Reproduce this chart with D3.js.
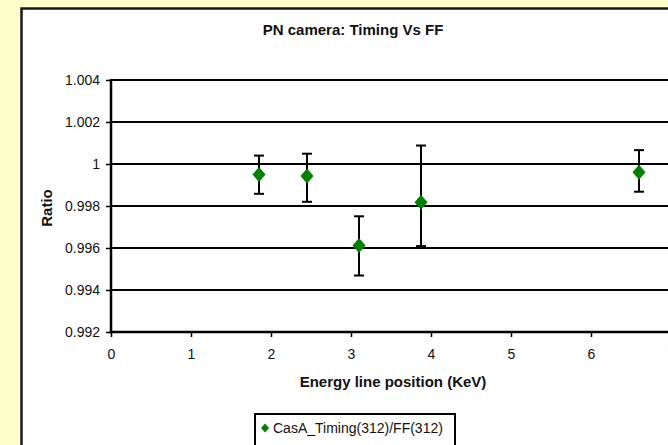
<!DOCTYPE html>
<html>
<head>
<meta charset="utf-8">
<script src="https://cdn.jsdelivr.net/npm/d3@7"></script>
<style>
  html, body { margin: 0; padding: 0; background: #FFFFCC; }
  svg { display: block; font-family: "Liberation Sans", Arial, sans-serif; }
</style>
</head>
<body>
<svg id="chart" width="668" height="445"></svg>
<script>
// Energy line positions (keV) and the Timing / Full-Frame gain ratio at each line
const energy = [1.85, 2.45, 3.10, 3.875, 6.60];
const ratio = [0.9995, 0.99943, 0.99612, 0.99818, 0.99961];
// Upper and lower ends of the error bars
const ratioHigh = [1.0004, 1.00049, 0.99751, 1.00088, 1.00066];
const ratioLow = [0.99858, 0.9982, 0.99469, 0.99609, 0.99868];

const xTicks = [0, 1, 2, 3, 4, 5, 6, 7];
const yTicks = [0.992, 0.994, 0.996, 0.998, 1, 1.002, 1.004];

const titleText = "PN camera: Timing Vs FF";
const xTitle = "Energy line position (KeV)";
const yTitle = "Ratio";
const seriesName = "CasA_Timing(312)/FF(312)";

const FONT = "Liberation Sans, Arial, sans-serif";
const svg = d3.select("#chart");

// page background and chart area
svg.append("rect").attr("x", 0).attr("y", 0).attr("width", 668).attr("height", 445)
  .attr("fill", "#FFFFCC");
svg.append("rect").attr("x", 21.5).attr("y", 8.5).attr("width", 700).attr("height", 480)
  .attr("fill", "#FFFFFF").attr("stroke", "#1a1a1a").attr("stroke-width", 2.5);

const x = d3.scaleLinear().domain([0, 7]).range([111, 671]);
const y = d3.scaleLinear().domain([0.992, 1.004]).range([332, 80]);

// horizontal gridlines
svg.append("g").selectAll("line").data(yTicks).join("line")
  .attr("x1", x(0)).attr("x2", x(7))
  .attr("y1", d => y(d)).attr("y2", d => y(d))
  .attr("stroke", "#000").attr("stroke-width", 1.8);

// y axis
const yAxis = d3.axisLeft(y).tickValues(yTicks).tickSize(5).tickPadding(6)
  .tickFormat(d => d3.format("~g")(+d.toFixed(3)));
const gy = svg.append("g").attr("transform", `translate(${x(0)},0)`).call(yAxis);
gy.select(".domain").remove();
gy.selectAll(".tick line").attr("stroke", "#000").attr("stroke-width", 1.5);
gy.selectAll(".tick text").attr("font-size", 14).attr("fill", "#111")
  .attr("font-family", FONT);
gy.append("line").attr("x1", 0).attr("x2", 0).attr("y1", y(1.004) - 1).attr("y2", y(0.992) + 1.2)
  .attr("stroke", "#000").attr("stroke-width", 2.5);

// x axis
const xAxis = d3.axisBottom(x).tickValues(xTicks).tickSize(5).tickPadding(12)
  .tickFormat(d3.format("d"));
const gx = svg.append("g").attr("transform", `translate(0,${y(0.992)})`).call(xAxis);
gx.select(".domain").remove();
gx.selectAll(".tick line").attr("stroke", "#000").attr("stroke-width", 1.5);
gx.selectAll(".tick text").attr("font-size", 14).attr("fill", "#111")
  .attr("font-family", FONT);
gx.append("line").attr("x1", x(0) - 1.2).attr("x2", x(7)).attr("y1", 0).attr("y2", 0)
  .attr("stroke", "#000").attr("stroke-width", 2.5);

// titles
svg.append("text").attr("x", 353).attr("y", 35).attr("text-anchor", "middle")
  .attr("font-size", 15).attr("font-weight", "bold").attr("fill", "#111").text(titleText);
svg.append("text").attr("x", 393).attr("y", 387).attr("text-anchor", "middle")
  .attr("font-size", 15).attr("font-weight", "bold").attr("fill", "#111").text(xTitle);
svg.append("text").attr("transform", `translate(52,${(y(0.992) + y(1.004)) / 2 + 2}) rotate(-90)`)
  .attr("text-anchor", "middle")
  .attr("font-size", 15).attr("font-weight", "bold").attr("fill", "#111").text(yTitle);

// error bars
const pts = energy.map((e, i) => ({ e, r: ratio[i], hi: ratioHigh[i], lo: ratioLow[i] }));
const eb = svg.append("g").attr("stroke", "#000").attr("stroke-width", 2);
eb.selectAll("line.v").data(pts).join("line").attr("class", "v")
  .attr("x1", d => x(d.e)).attr("x2", d => x(d.e))
  .attr("y1", d => y(d.hi)).attr("y2", d => y(d.lo));
eb.selectAll("line.t").data(pts).join("line").attr("class", "t")
  .attr("x1", d => x(d.e) - 5).attr("x2", d => x(d.e) + 5)
  .attr("y1", d => y(d.hi)).attr("y2", d => y(d.hi));
eb.selectAll("line.b").data(pts).join("line").attr("class", "b")
  .attr("x1", d => x(d.e) - 5).attr("x2", d => x(d.e) + 5)
  .attr("y1", d => y(d.lo)).attr("y2", d => y(d.lo));

// diamond markers
const diamond = (w, h) => `M0,${-h}L${w},0L0,${h}L${-w},0Z`;
svg.append("g").selectAll("path").data(pts).join("path")
  .attr("transform", d => `translate(${x(d.e)},${y(d.r)})`)
  .attr("d", diamond(6.5, 7.5)).attr("fill", "#008000");

// legend
const lg = svg.append("g");
lg.append("rect").attr("x", 255).attr("y", 414).attr("width", 200).attr("height", 40)
  .attr("fill", "#fff").attr("stroke", "#000").attr("stroke-width", 2);
lg.append("path").attr("transform", "translate(265,428)").attr("d", diamond(4, 4.5))
  .attr("fill", "#008000");
lg.append("text").attr("x", 273).attr("y", 433).attr("font-size", 14).attr("fill", "#111")
  .text(seriesName);
</script>
</body>
</html>
